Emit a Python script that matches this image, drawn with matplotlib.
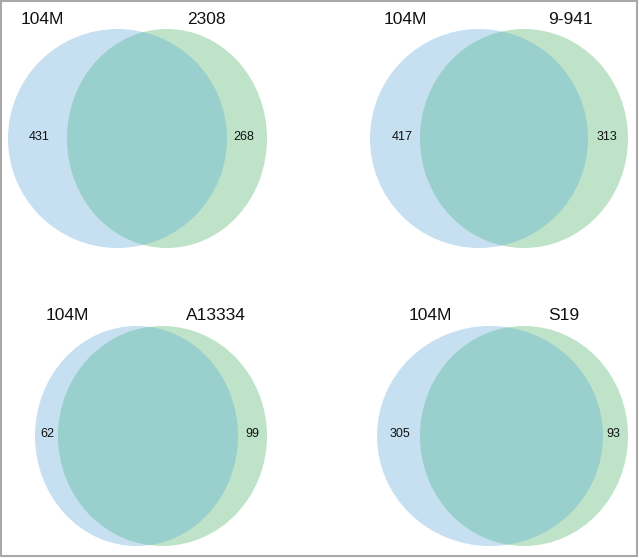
import matplotlib
matplotlib.use("Agg")
import matplotlib.pyplot as plt
from matplotlib.patches import Ellipse, Rectangle

# ---- data ----
left_names = ["104M", "104M", "104M", "104M"]
right_names = ["2308", "9-941", "A13334", "S19"]
left_only = [431, 417, 62, 305]
right_only = [268, 313, 99, 93]

# ---- layout (pixel units) ----
# (blue cx, blue cy, blue w, blue h, green cx, green cy, green w, green h)
shapes = [
    (117.5, 138.5, 219, 219, 167, 138.5, 200, 219),
    (479, 138.5, 218, 219, 524, 138.5, 208, 219),
    (136.5, 436, 203, 220, 162.5, 436, 209, 220),
    (490, 436, 226, 220, 524, 436, 208, 220),
]
name_pos = [((42, 19), (206, 19)), ((405, 19), (570, 19)),
            ((67, 316), (216, 316)), ((430, 316), (564, 316))]
num_pos = [((39, 137), (244, 137)), ((402, 137), (607, 137)),
           ((47, 434), (252, 434)), ((400, 434), (613, 434))]

BLUE = "#c6e0f2"
GREEN = "#bfe3c8"
OVER = "#99cfcd"

plt.rcParams['font.family'] = ['Liberation Sans', 'DejaVu Sans']

W, H = 639, 558
fig = plt.figure(figsize=(W / 100, H / 100), dpi=100)
ax = fig.add_axes([0, 0, 1, 1])
ax.set_xlim(0, W)
ax.set_ylim(H, 0)
ax.axis("off")

for i in range(4):
    bx, by, bw, bh, gx, gy, gw, gh = shapes[i]
    ax.add_patch(Ellipse((bx, by), bw, bh, facecolor=BLUE, edgecolor="none"))
    g = Ellipse((gx, gy), gw, gh, facecolor=GREEN, edgecolor="none")
    ax.add_patch(g)
    ov = Ellipse((bx, by), bw, bh, facecolor=OVER, edgecolor="none")
    ax.add_patch(ov)
    ov.set_clip_path(g)
    (lx, ly), (rx, ry) = name_pos[i]
    ax.text(lx, ly, left_names[i], fontsize=12.5, ha="center", va="center", color="#111111")
    ax.text(rx, ry, right_names[i], fontsize=12.5, ha="center", va="center", color="#111111")
    (nlx, nly), (nrx, nry) = num_pos[i]
    ax.text(nlx, nly, str(left_only[i]), fontsize=9, ha="center", va="center", color="#111111")
    ax.text(nrx, nry, str(right_only[i]), fontsize=9, ha="center", va="center", color="#111111")

ax.add_patch(Rectangle((1, 1), W - 3, H - 3, facecolor="none", edgecolor="#a8a8a8", lw=1.5))

fig.savefig("out.png", dpi=100)
